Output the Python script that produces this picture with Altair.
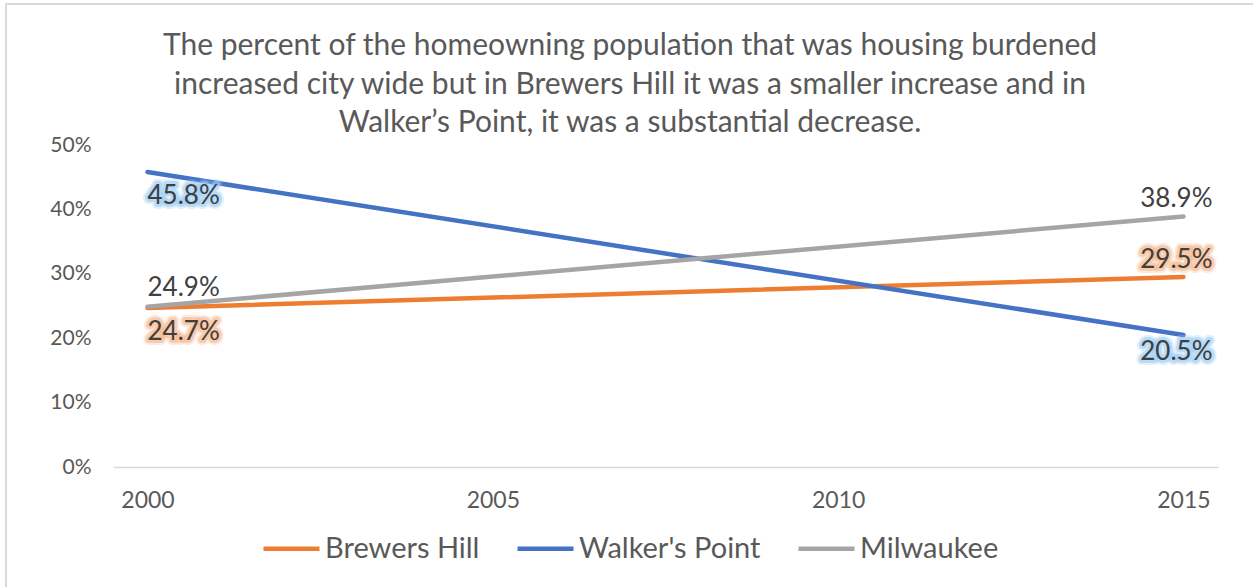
import altair as alt
import pandas as pd

# Series and values (share of homeowners that are housing burdened)
series = ["Brewers Hill", "Walker's Point", "Milwaukee"]
years = [2000, 2015]
brewers_hill = [0.247, 0.295]
walkers_point = [0.458, 0.205]
milwaukee = [0.249, 0.389]

x_ticks = [2000, 2005, 2010, 2015]
y_ticks = [0, 0.1, 0.2, 0.3, 0.4, 0.5]

title_lines = [
    "The percent of the homeowning population that was housing burdened",
    "increased city wide but in Brewers Hill it was a smaller increase and in",
    "Walker\u2019s Point, it was a substantial decrease.",
]

line_colors = ["#ED7D31", "#4472C4", "#A5A5A5"]
glow_series = ["Brewers Hill", "Walker's Point"]
glow_colors = ["#F6B68A", "#9CCDF4"]
FONT = "Lato"
TEXT = "#595959"
LABEL = "#404040"

rows = []
for name, vals in zip(series, [brewers_hill, walkers_point, milwaukee]):
    for yr, v in zip(years, vals):
        rows.append({"series": name, "year": yr, "value": v})
df = pd.DataFrame(rows)

x_enc = alt.X(
    "year:Q",
    scale=alt.Scale(domain=[1999.5, 2015.5], nice=False, zero=False),
    axis=alt.Axis(
        values=x_ticks, format="d", title=None, ticks=False, grid=False,
        domainColor="#D9D9D9", domainWidth=1.5,
        labelFont=FONT, labelFontSize=23, labelColor=TEXT, labelPadding=22,
    ),
)
y_enc = alt.Y(
    "value:Q",
    scale=alt.Scale(domain=[0, 0.5], nice=False),
    axis=alt.Axis(
        values=y_ticks, format=".0%", title=None, domain=False, ticks=False,
        grid=False, labelFont=FONT, labelFontSize=21, labelColor=TEXT,
        labelPadding=22,
    ),
)

base = alt.Chart(df).encode(x=x_enc, y=y_enc)

lines = base.mark_line(strokeWidth=4.5, strokeCap="round").encode(
    color=alt.Color(
        "series:N",
        sort=series,
        scale=alt.Scale(domain=series, range=line_colors),
        legend=alt.Legend(
            orient="none", legendX=148, legendY=373, direction="horizontal",
            columns=3, title=None, symbolType="stroke", symbolSize=3136,
            symbolStrokeWidth=4.5, labelFont=FONT, labelFontSize=29,
            labelColor=TEXT, labelLimit=400, columnPadding=28, labelOffset=3,
        ),
    )
)

below = 'datum.series == "Walker\'s Point" || (datum.series == "Brewers Hill" && datum.year == 2000)'
above = "!(" + below + ")"
is_start = "datum.year == 2000"
is_end = "datum.year == 2015"
has_glow = 'datum.series != "Milwaukee"'


def label_layer(side_expr, end_expr, dy, align, dx, glow=False):
    filt = "(" + side_expr + ") && (" + end_expr + ")"
    if glow:
        filt += " && (" + has_glow + ")"
        halo_scale = alt.Scale(domain=glow_series, range=glow_colors)
        layers = []
        for width, opacity in [(10, 0.3), (6, 0.6)]:
            layers.append(
                base.transform_filter(filt).mark_text(
                    font=FONT, fontSize=26, align=align, dx=dx, dy=dy,
                    baseline="middle", strokeWidth=width,
                    strokeOpacity=opacity, strokeJoin="round",
                ).encode(
                    text=alt.Text("value:Q", format=".1%"),
                    stroke=alt.Stroke("series:N", scale=halo_scale, legend=None),
                    fill=alt.Fill("series:N", scale=halo_scale, legend=None),
                )
            )
        return layers
    return [
        base.transform_filter(filt).mark_text(
            font=FONT, fontSize=26, align=align, dx=dx, dy=dy, baseline="middle",
            color=LABEL,
        ).encode(text=alt.Text("value:Q", format=".1%"))
    ]


label_specs = [
    (above, is_start, -19, "left", 0),
    (below, is_start, 24, "left", 0),
    (above, is_end, -17, "right", 29),
    (below, is_end, 17, "right", 29),
]

glows = []
texts = []
for spec in label_specs:
    glows += label_layer(*spec, glow=True)
    texts += label_layer(*spec)

one_row = pd.DataFrame({"f": [0]})

# Light outline around the whole chart
frame = alt.Chart(one_row).mark_rect(
    fillOpacity=0, stroke="#D9D9D9", strokeWidth=2
).encode(
    x=alt.value(-107), x2=alt.value(1150), y=alt.value(-141), y2=alt.value(460)
)

# Three-line heading, centred over the chart
heading = alt.Chart(one_row).mark_text(
    font=FONT, fontSize=30, color=TEXT, align="center", baseline="middle",
    lineHeight=38.5,
).encode(
    x=alt.value(517), y=alt.value(-99), text=alt.value(title_lines)
)

chart = alt.layer(frame, heading, lines, *glows, *texts).resolve_scale(
    stroke="independent", fill="independent"
).properties(
    width=1105,
    height=322,
    padding={"left": 113, "top": 145, "right": 35, "bottom": 120},
    autosize=alt.AutoSizeParams(type="none"),
).configure(background="white").configure_view(stroke=None)

chart.save("out.html", embed_options={"renderer": "svg", "actions": False})
